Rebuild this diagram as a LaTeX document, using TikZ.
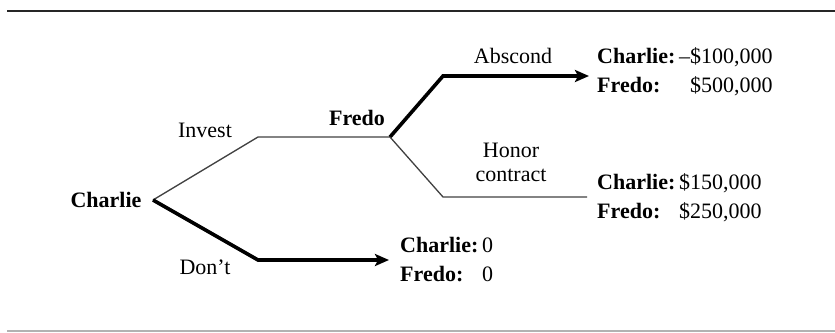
\documentclass[tikz,border=0pt]{standalone}
\usepackage{fontspec}
\setmainfont{Liberation Serif}
\usetikzlibrary{arrows.meta}
\begin{document}
\begin{tikzpicture}[x=1pt,y=-1pt,
  thinb/.style={draw=black!75,line width=1.3pt},
  thickb/.style={draw=black,line width=3.6pt,line join=miter},
  arr/.style={-{Stealth[length=14pt,width=12pt,inset=3pt]}},
  lbl/.style={font=\fontsize{22}{25}\selectfont,inner sep=0pt},
  pay/.style={font=\fontsize{22}{29}\selectfont,inner sep=0pt,anchor=west}]
\useasboundingbox (0,0) rectangle (835,332);
\draw[line width=2pt,black!85] (7,11) -- (835,11);
\draw[line width=1.5pt,black!30] (7,331) -- (835,331);
% tree points
\coordinate (C) at (153,200);
\coordinate (I) at (258,137);
\coordinate (F) at (390,137);
\coordinate (D) at (258,260);
\coordinate (Dend) at (389,260);
\coordinate (A) at (443,76);
\coordinate (Aend) at (589,76);
\coordinate (H) at (443,197);
\coordinate (Hend) at (587,197);
% nodes
\node[lbl,font=\fontsize{22}{25}\selectfont\bfseries] (cn) at (106,200) {Charlie};
\node[lbl,font=\fontsize{22}{25}\selectfont\bfseries] (fn) at (357,118) {Fredo};
\node[lbl] (inv) at (205,130) {Invest};
\node[lbl] (dont) at (205,267) {Don’t};
\node[lbl] (absc) at (513,56) {Abscond};
\node[lbl,align=center,font=\fontsize{22}{24}\selectfont] (hon) at (511,162) {Honor\\contract};
% connectors
\draw[thinb] (C) -- (I) -- (F);
\draw[thickb,arr] (C) -- (D) -- (Dend);
\draw[thickb,arr] (F) -- (A) -- (Aend);
\draw[thinb] (F) -- (H) -- (Hend);
% payoffs
\node[pay] (p1) at (597,72) {\begin{tabular}{@{}l@{\,}r@{}}\textbf{Charlie:} & –\$100,000\\ \textbf{Fredo:} & \$500,000\end{tabular}};
\node[pay] (p2) at (597,198) {\begin{tabular}{@{}l@{\,}r@{}}\textbf{Charlie:} & \$150,000\\ \textbf{Fredo:} & \$250,000\end{tabular}};
\node[pay] (p3) at (400,261) {\begin{tabular}{@{}l@{\,}r@{}}\textbf{Charlie:} & 0\\ \textbf{Fredo:} & 0\end{tabular}};
\end{tikzpicture}
\end{document}
